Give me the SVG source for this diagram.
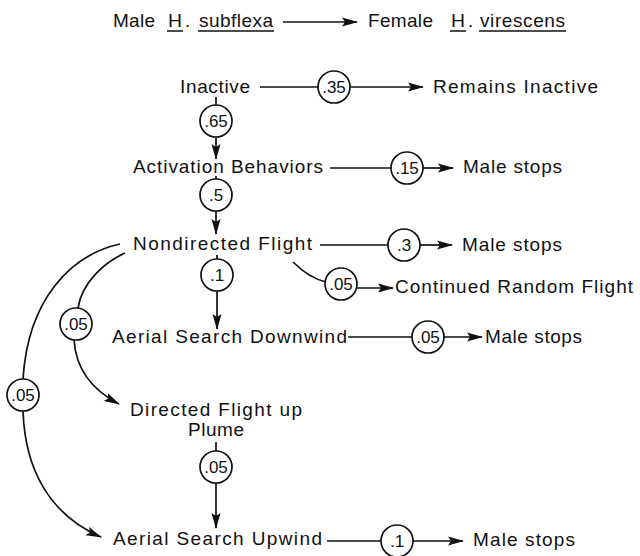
<svg xmlns="http://www.w3.org/2000/svg" width="640" height="556" viewBox="0 0 640 556">
<style>
text{font-family:"Liberation Sans",Arial,sans-serif;font-size:19px;fill:#111}
.p{font-size:17px;text-anchor:middle}
.c{fill:#fff;stroke:#111;stroke-width:1.7}
.e{fill:none;stroke:#111;stroke-width:1.7}
.a{fill:none;stroke:#111;stroke-width:1.7;marker-end:url(#ah)}
.u{stroke:#111;stroke-width:1.5}
</style>
<defs>
<marker id="ah" viewBox="0 0 16 10" refX="15" refY="5" markerWidth="16" markerHeight="10" markerUnits="userSpaceOnUse" orient="auto">
<path d="M0,0.5 L16,5 L0,9.5 L3,5 z" fill="#111"/>
</marker>
</defs>
<g id="title">
<text x="113" y="27" textLength="42" lengthAdjust="spacing">Male</text>
<text x="168" y="27" textLength="14" lengthAdjust="spacingAndGlyphs">H</text>
<text x="185" y="27">.</text>
<text x="199" y="27" textLength="74" lengthAdjust="spacing">subflexa</text>
<line class="u" x1="167" y1="31" x2="183" y2="31"/>
<line class="u" x1="198" y1="31" x2="274" y2="31"/>
<text x="368" y="27" textLength="65" lengthAdjust="spacing">Female</text>
<text x="451" y="27" textLength="14" lengthAdjust="spacingAndGlyphs">H</text>
<text x="468" y="27">.</text>
<text x="480" y="27" textLength="85" lengthAdjust="spacing">virescens</text>
<line class="u" x1="450" y1="31" x2="466" y2="31"/>
<line class="u" x1="479" y1="31" x2="566" y2="31"/>
</g>
<g id="connectors">
<line class="a" x1="283" y1="22" x2="357" y2="22"/>
<line class="e" x1="260" y1="87" x2="318" y2="87"/>
<line class="a" x1="350" y1="87" x2="423" y2="87"/>
<line class="e" x1="216" y1="97" x2="216" y2="105"/>
<line class="a" x1="216" y1="137" x2="216" y2="159"/>
<line class="e" x1="330" y1="168" x2="391" y2="168"/>
<line class="a" x1="423" y1="168" x2="453" y2="168"/>
<line class="e" x1="216" y1="176" x2="216" y2="179"/>
<line class="a" x1="216" y1="211" x2="216" y2="234"/>
<line class="e" x1="320" y1="245" x2="388" y2="245"/>
<line class="a" x1="420" y1="245" x2="452" y2="245"/>
<line class="e" x1="217" y1="255" x2="217" y2="259"/>
<line class="a" x1="217" y1="291" x2="217" y2="329"/>
<path class="e" d="M293,262 C303,272 313,279 326,282"/>
<line class="a" x1="356" y1="288" x2="393" y2="288"/>
<line class="e" x1="348" y1="337" x2="412" y2="337"/>
<line class="a" x1="444" y1="337" x2="482" y2="337"/>
<path class="e" d="M120,244 C70,255 28,300 23,379"/>
<path class="a" d="M23,411 C25,470 50,515 101,537"/>
<path class="e" d="M125,253 C105,262 82,282 78,308"/>
<path class="a" d="M74,340 C76,370 92,390 119,404"/>
<line class="e" x1="216" y1="442" x2="216" y2="451"/>
<line class="a" x1="216" y1="483" x2="216" y2="528"/>
<line class="e" x1="327" y1="541" x2="381" y2="541"/>
<line class="a" x1="413" y1="541" x2="463" y2="541"/>
</g>
<g id="n-inactive"><text x="180" y="93" textLength="70" lengthAdjust="spacing">Inactive</text></g>
<g id="n-remains"><text x="433" y="93" textLength="165" lengthAdjust="spacing">Remains Inactive</text></g>
<g id="n-activation"><text x="133" y="173" textLength="190" lengthAdjust="spacing">Activation Behaviors</text></g>
<g id="n-stop1"><text x="463" y="173" textLength="99" lengthAdjust="spacing">Male stops</text></g>
<g id="n-nondirected"><text x="133" y="250" textLength="179" lengthAdjust="spacing">Nondirected Flight</text></g>
<g id="n-stop2"><text x="462" y="251" textLength="100" lengthAdjust="spacing">Male stops</text></g>
<g id="n-continued"><text x="395" y="293" textLength="238" lengthAdjust="spacing">Continued Random Flight</text></g>
<g id="n-downwind"><text x="112" y="343" textLength="235" lengthAdjust="spacing">Aerial Search Downwind</text></g>
<g id="n-stop3"><text x="485" y="343" textLength="97" lengthAdjust="spacing">Male stops</text></g>
<g id="n-directed"><text x="130" y="416" textLength="172" lengthAdjust="spacing">Directed Flight up</text><text x="188" y="436" textLength="56" lengthAdjust="spacing">Plume</text></g>
<g id="n-upwind"><text x="113" y="545" textLength="209" lengthAdjust="spacing">Aerial Search Upwind</text></g>
<g id="n-stop4"><text x="473" y="546" textLength="102" lengthAdjust="spacing">Male stops</text></g>
<g id="probabilities">
<g id="p-35"><circle class="c" cx="334" cy="87" r="16"/><text class="p" x="334" y="93">.35</text></g>
<g id="p-65"><circle class="c" cx="216" cy="121" r="16"/><text class="p" x="216" y="127">.65</text></g>
<g id="p-15"><circle class="c" cx="407" cy="168" r="16"/><text class="p" x="407" y="174">.15</text></g>
<g id="p-5"><circle class="c" cx="216" cy="195" r="16"/><text class="p" x="216" y="201">.5</text></g>
<g id="p-3"><circle class="c" cx="404" cy="245" r="16"/><text class="p" x="404" y="251">.3</text></g>
<g id="p-1a"><circle class="c" cx="217" cy="275" r="16"/><text class="p" x="217" y="281">.1</text></g>
<g id="p-05a"><circle class="c" cx="341" cy="284" r="16"/><text class="p" x="341" y="290">.05</text></g>
<g id="p-05b"><circle class="c" cx="428" cy="337" r="16"/><text class="p" x="428" y="343">.05</text></g>
<g id="p-05c"><circle class="c" cx="76" cy="324" r="16"/><text class="p" x="76" y="330">.05</text></g>
<g id="p-05d"><circle class="c" cx="23" cy="395" r="16"/><text class="p" x="23" y="401">.05</text></g>
<g id="p-05e"><circle class="c" cx="216" cy="467" r="16"/><text class="p" x="216" y="473">.05</text></g>
<g id="p-1b"><circle class="c" cx="397" cy="541" r="16"/><text class="p" x="397" y="547">.1</text></g>
</g>
</svg>
